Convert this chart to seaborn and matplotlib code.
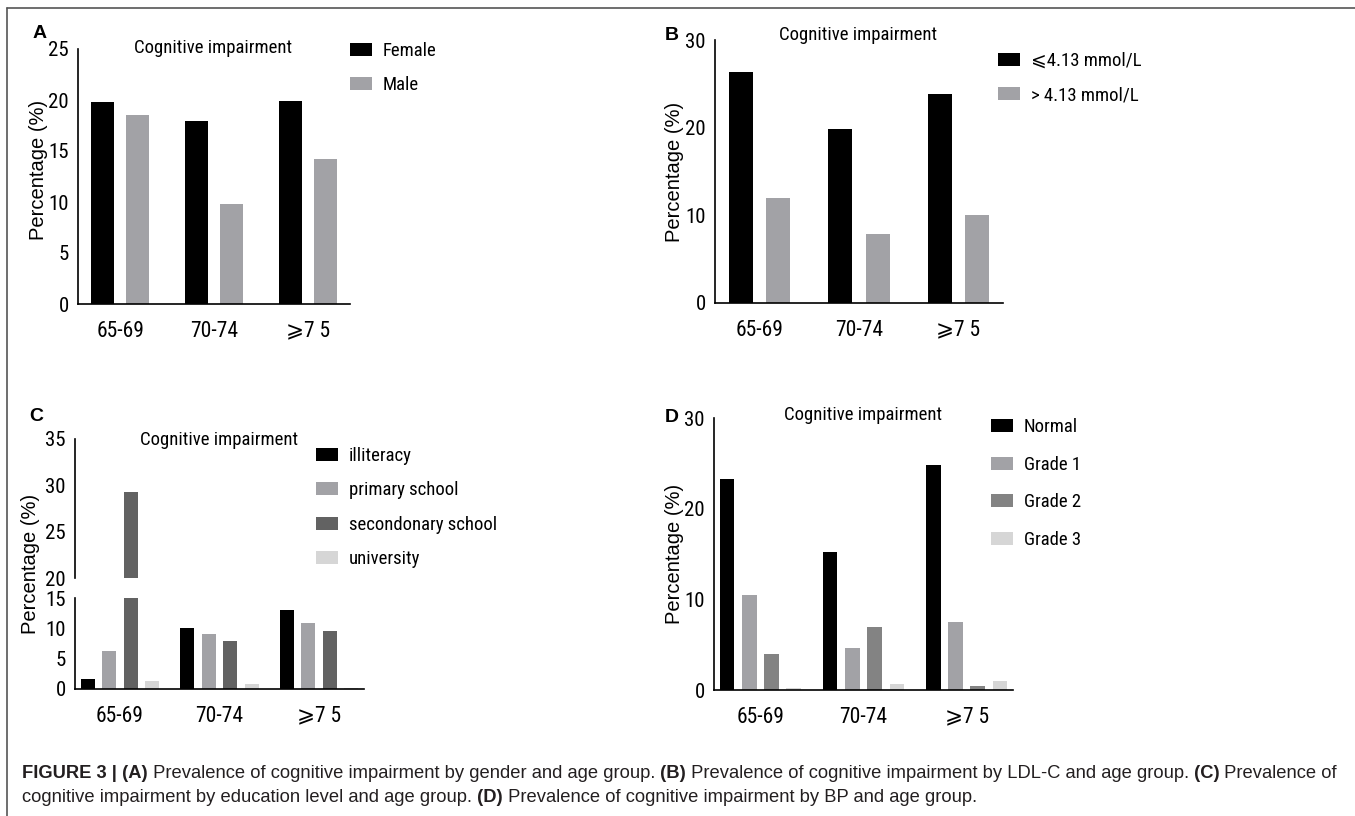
import matplotlib
matplotlib.use("Agg")
import matplotlib.pyplot as plt
import numpy as np
import pandas as pd
import seaborn as sns
from matplotlib.lines import Line2D

# ---- data ----
ages = ["65-69", "70-74", "⩾7 5"]

sex_groups = ["Female", "Male"]
female_pct = [19.8, 17.9, 19.9]
male_pct = [18.5, 9.8, 14.2]

ldl_groups = ["⩽4.13 mmol/L", "> 4.13 mmol/L"]
ldl_low_pct = [26.3, 19.8, 23.8]
ldl_high_pct = [12.0, 7.9, 10.0]

edu_groups = ["illiteracy", "primary school", "secondonary school", "university"]
illiteracy_pct = [1.6, 10.0, 13.0]
primary_pct = [6.2, 9.0, 10.8]
secondary_pct = [29.3, 7.9, 9.5]
university_pct = [1.4, 0.9, 0.2]

bp_groups = ["Normal", "Grade 1", "Grade 2", "Grade 3"]
normal_pct = [23.3, 15.2, 24.8]
grade1_pct = [10.5, 4.6, 7.5]
grade2_pct = [4.0, 6.9, 0.4]
grade3_pct = [0.2, 0.7, 1.0]

BLACK = "#000000"
MID = "#a2a2a6"
DARK = "#626262"
GREY2 = "#838383"
LIGHT = "#d6d6d6"

W, H = 1355, 816
NARROW = ["Roboto Condensed", "Arial Narrow", "Archivo Narrow", "Sofia Sans Semi Condensed",
          "Liberation Sans", "DejaVu Sans"]
REGULAR = ["Liberation Sans", "DejaVu Sans"]


def fx(x):
    return x / W


def fy(y):
    return 1 - y / H


def box(l, t, r, b):
    return [l / W, 1 - b / H, (r - l) / W, (b - t) / H]


def long_table(groups, series):
    return pd.DataFrame({
        "age": ages * len(groups),
        "group": np.repeat(groups, len(ages)),
        "pct": np.concatenate(series),
    })


sns.set_style("white")
plt.rcParams["font.family"] = NARROW
plt.rcParams["axes.edgecolor"] = "black"
plt.rcParams["text.color"] = "black"
plt.rcParams["xtick.color"] = "black"
plt.rcParams["ytick.color"] = "black"

fig = plt.figure(figsize=(W / 100, H / 100), dpi=100)


def draw(ax, df, groups, colors, width, legend=True):
    sns.barplot(data=df, x="age", y="pct", hue="group", order=ages,
                hue_order=groups, palette=colors, width=width, gap=0.35,
                saturation=1, linewidth=0, errorbar=None, legend=legend, ax=ax)
    ax.set_xlabel("")
    ax.set_ylabel("")
    ax.set_xlim(-0.45, 2.45)
    for s in ["top", "right"]:
        ax.spines[s].set_visible(False)
    for s in ["left", "bottom"]:
        ax.spines[s].set_linewidth(1.2)
    ax.tick_params(axis="y", length=4.5, width=1.2, pad=2, labelsize=15)
    ax.tick_params(axis="x", length=6, width=1.2, pad=6, labelsize=15.5)


def place_legend(ax, x, y, spacing):
    h, l = ax.get_legend_handles_labels()
    ax.get_legend().remove()
    ax.legend(h, l, loc="upper left", bbox_to_anchor=(fx(x), fy(y - 7)),
              bbox_transform=fig.transFigure, frameon=False, fontsize=13.5,
              handlelength=1.17, handleheight=0.7, handletextpad=0.58,
              labelspacing=spacing, borderpad=0, borderaxespad=0)


def ylab(x, y):
    fig.text(fx(x), fy(y), "Percentage (%)", rotation=90, ha="center", va="center",
             fontsize=14.5, family=REGULAR)


def title(x, y):
    fig.text(fx(x), fy(y), "Cognitive impairment", ha="center", va="center", fontsize=13.5)


def panel(x, y, s):
    fig.text(fx(x), fy(y), s, ha="center", va="center", fontsize=14,
             fontweight="bold", family=REGULAR)


# A
axA = fig.add_axes(box(78, 49, 350, 304))
draw(axA, long_table(sex_groups, [female_pct, male_pct]), sex_groups, [BLACK, MID], 0.75)
axA.set_ylim(0, 25)
axA.set_yticks(range(0, 26, 5))
place_legend(axA, 350, 49, 0.87)
title(213, 48)
ylab(38, 170)
panel(40, 33, "A")

# B
axB = fig.add_axes(box(715, 40, 1003, 303))
draw(axB, long_table(ldl_groups, [ldl_low_pct, ldl_high_pct]), ldl_groups, [BLACK, MID], 0.75)
axB.set_ylim(0, 30)
axB.set_yticks(range(0, 31, 10))
place_legend(axB, 998, 59, 0.87)
title(858, 35)
ylab(675, 172)
panel(672, 35, "B")

# C (broken y axis)
edu_df = long_table(edu_groups, [illiteracy_pct, primary_pct, secondary_pct, university_pct])
edu_colors = [BLACK, MID, DARK, LIGHT]
axCu = fig.add_axes(box(75, 439, 364, 578))
draw(axCu, edu_df, edu_groups, edu_colors, 0.86, legend=False)
axCu.set_ylim(20, 35)
axCu.set_yticks(range(20, 36, 5))
axCu.spines["bottom"].set_visible(False)
axCu.tick_params(axis="x", bottom=False, labelbottom=False)
axCl = fig.add_axes(box(75, 598, 364, 689))
draw(axCl, edu_df, edu_groups, edu_colors, 0.86)
axCl.set_ylim(0, 15)
axCl.set_yticks(range(0, 16, 5))
place_legend(axCl, 316, 454, 0.87)
title(219, 440)
ylab(31, 564)
panel(36, 417, "C")

# D
axD = fig.add_axes(box(714, 418, 1013, 690))
draw(axD, long_table(bp_groups, [normal_pct, grade1_pct, grade2_pct, grade3_pct]),
     bp_groups, [BLACK, MID, GREY2, LIGHT], 0.86)
axD.set_ylim(0, 30)
axD.set_yticks(range(0, 31, 10))
place_legend(axD, 991, 425, 1.05)
title(863, 415)
ylab(675, 554)
panel(672, 418, "D")

# frame
fig.add_artist(Line2D([fx(7), fx(W)], [fy(8), fy(8)], color="#555555", lw=1.2))
fig.add_artist(Line2D([fx(7), fx(7)], [fy(8), fy(H)], color="#555555", lw=1.2))

# caption
cap = fig.add_axes([0, 0, 1, 1])
cap.axis("off")


def rich_line(x, y, parts):
    prev = None
    for text, bold in parts:
        kw = dict(fontsize=13.2, fontweight="bold" if bold else "normal",
                  family=REGULAR, color="#231f20", ha="left")
        if prev is None:
            prev = cap.text(fx(x), fy(y), text, transform=fig.transFigure, va="center", **kw)
        else:
            prev = cap.annotate(text, xy=(1, 0), xycoords=prev, va="bottom", **kw)


rich_line(22, 774, [
    ("FIGURE 3 |", True), (" (A)", True),
    (" Prevalence of cognitive impairment by gender and age group.", False),
    (" (B)", True),
    (" Prevalence of cognitive impairment by LDL-C and age group.", False),
    (" (C)", True), (" Prevalence of", False),
])
rich_line(22, 797, [
    ("cognitive impairment by education level and age group.", False),
    (" (D)", True),
    (" Prevalence of cognitive impairment by BP and age group.", False),
])

fig.savefig("out.png", dpi=100)
